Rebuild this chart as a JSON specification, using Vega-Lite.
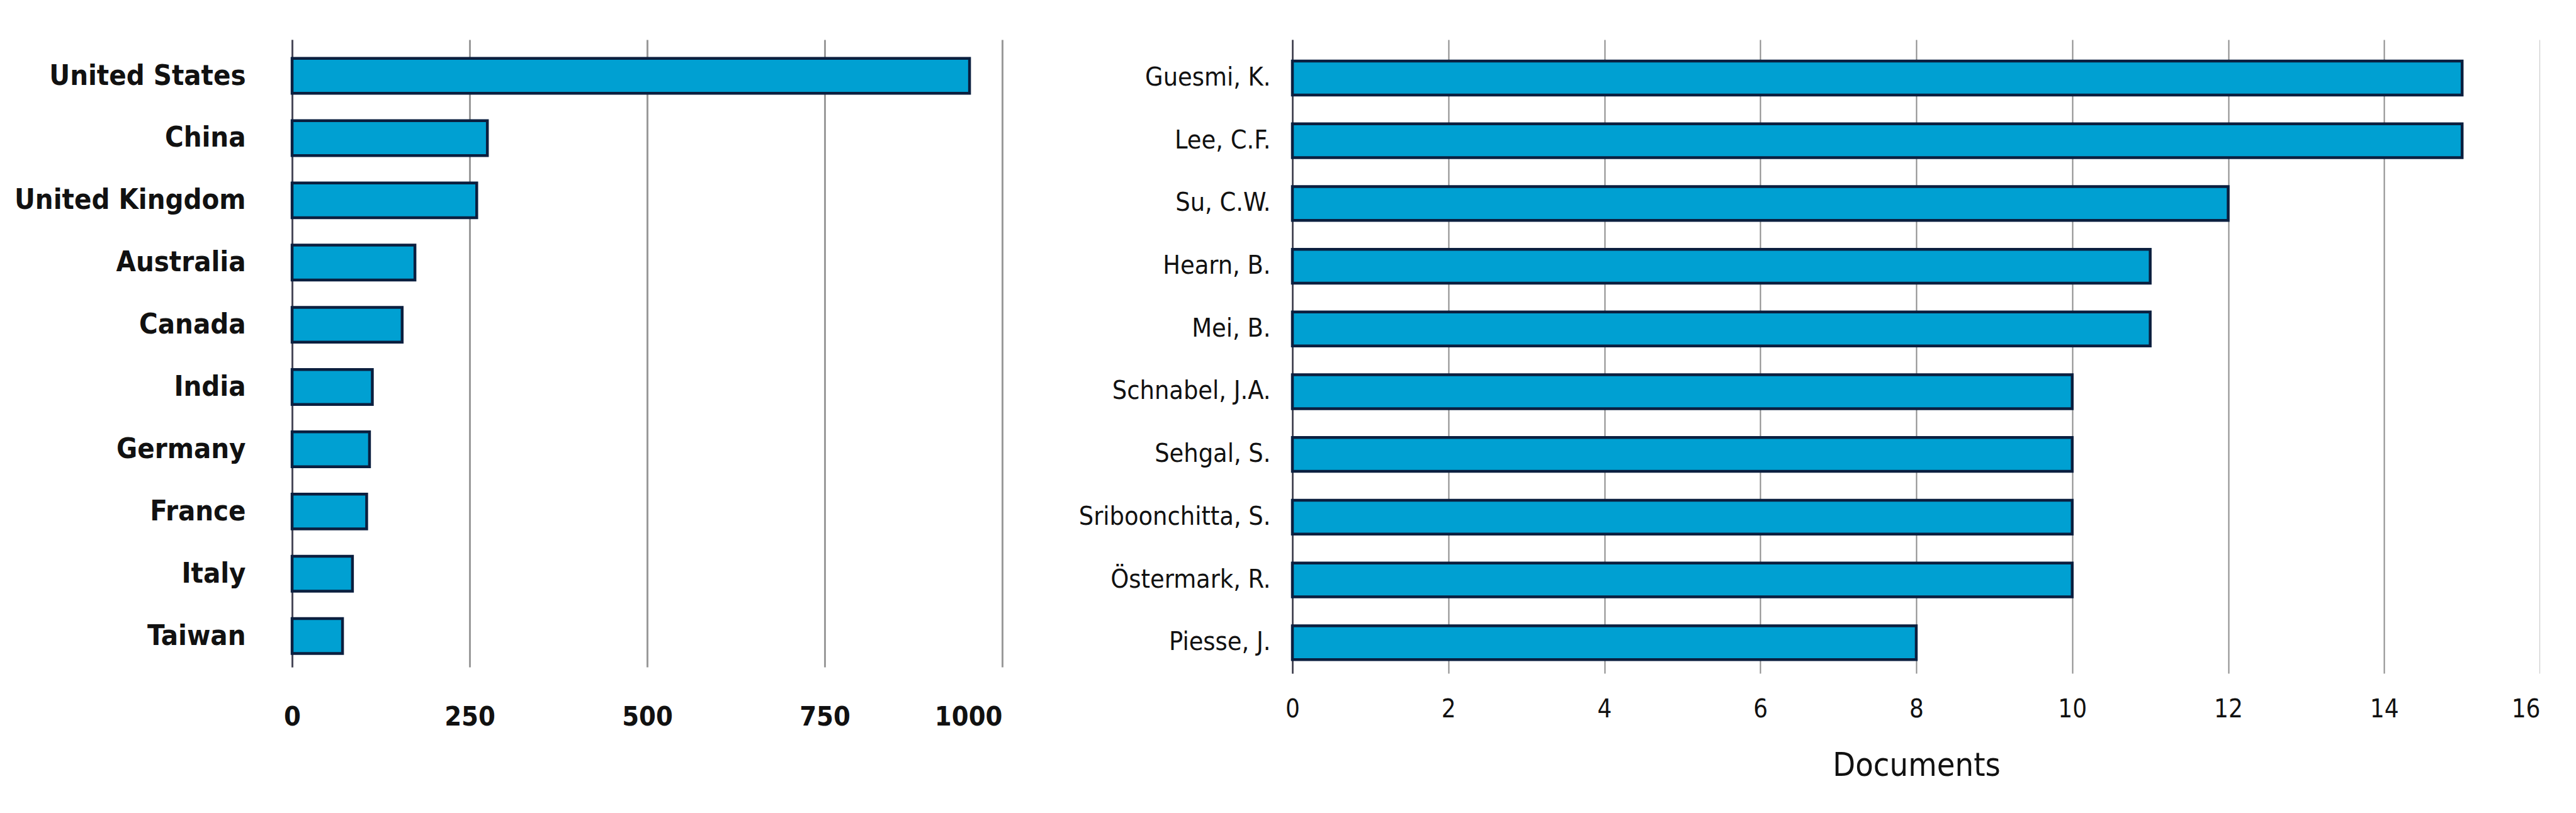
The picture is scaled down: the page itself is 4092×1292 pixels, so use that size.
{
  "$schema": "https://vega.github.io/schema/vega-lite/v6.json",
  "padding": {"left": 0, "top": 63, "right": 0, "bottom": 45},
  "background": "white",
  "spacing": 20,
  "config": {
    "view": {"stroke": null},
    "font": "DejaVu Sans Condensed, Liberation Sans",
    "axis": {"labelFont": "DejaVu Sans Condensed, Liberation Sans", "titleFont": "DejaVu Sans Condensed, Liberation Sans", "labelColor": "#111", "titleColor": "#111"}
  },
  "hconcat": [
    {
      "width": 1128,
      "height": 997,
      "data": {"values": [
        {"country": "United States", "docs": 954},
        {"country": "China", "docs": 275},
        {"country": "United Kingdom", "docs": 260},
        {"country": "Australia", "docs": 173},
        {"country": "Canada", "docs": 155},
        {"country": "India", "docs": 113},
        {"country": "Germany", "docs": 109},
        {"country": "France", "docs": 105},
        {"country": "Italy", "docs": 85},
        {"country": "Taiwan", "docs": 71}
      ]},
      "mark": {"type": "bar", "fill": "#00a0d2", "stroke": "#0b1f3f", "strokeWidth": 4.5},
      "encoding": {
        "y": {
          "field": "country", "type": "nominal", "sort": null,
          "scale": {"paddingInner": 0.44, "paddingOuter": 0.26, "align": 0.58},
          "axis": {
            "title": null, "ticks": false, "labelPadding": 74, "labelFontSize": 45, "labelFontWeight": "bold",
            "minExtent": 464, "maxExtent": 464, "labelLimit": 390,
            "domain": true, "domainColor": "#4a4a5a", "domainWidth": 3, "grid": false
          }
        },
        "x": {
          "field": "docs", "type": "quantitative",
          "scale": {"domain": [0, 1000], "nice": false},
          "axis": {
            "title": null, "values": [0, 250, 500, 750, 1000], "format": "d", "ticks": false, "domain": false,
            "grid": true, "gridColor": "#9a9a9a", "gridWidth": 3,
            "labelFontSize": 43, "labelFontWeight": "bold", "labelPadding": 58,
            "labelAlign": {"condition": {"test": "datum.value == 1000", "value": "right"}, "value": "center"}
          }
        }
      }
    },
    {
      "width": 1982,
      "height": 1007,
      "data": {"values": [
        {"author": "Guesmi, K.", "docs": 15},
        {"author": "Lee, C.F.", "docs": 15},
        {"author": "Su, C.W.", "docs": 12},
        {"author": "Hearn, B.", "docs": 11},
        {"author": "Mei, B.", "docs": 11},
        {"author": "Schnabel, J.A.", "docs": 10},
        {"author": "Sehgal, S.", "docs": 10},
        {"author": "Sriboonchitta, S.", "docs": 10},
        {"author": "Östermark, R.", "docs": 10},
        {"author": "Piesse, J.", "docs": 8}
      ]},
      "mark": {"type": "bar", "fill": "#00a0d2", "stroke": "#0b1f3f", "strokeWidth": 4.5},
      "encoding": {
        "y": {
          "field": "author", "type": "nominal", "sort": null,
          "scale": {"paddingInner": 0.46, "paddingOuter": 0.28, "align": 0.61},
          "axis": {
            "title": null, "ticks": false, "labelPadding": 35, "labelFontSize": 41,
            "minExtent": 441, "maxExtent": 441, "labelLimit": 406,
            "domain": true, "domainColor": "#3a3a4a", "domainWidth": 2.5, "grid": false
          }
        },
        "x": {
          "field": "docs", "type": "quantitative",
          "scale": {"domain": [0, 16], "nice": false},
          "axis": {
            "title": "Documents", "titleFontSize": 52, "titleFontWeight": "normal", "titlePadding": 44,
            "values": [0, 2, 4, 6, 8, 10, 12, 14, 16], "ticks": false, "domain": false,
            "grid": true, "gridColor": "#8c8c8c", "gridWidth": 2,
            "labelFontSize": 40, "labelPadding": 37,
            "labelAlign": {"condition": {"test": "datum.value == 16", "value": "right"}, "value": "center"}
          }
        }
      }
    }
  ]
}
